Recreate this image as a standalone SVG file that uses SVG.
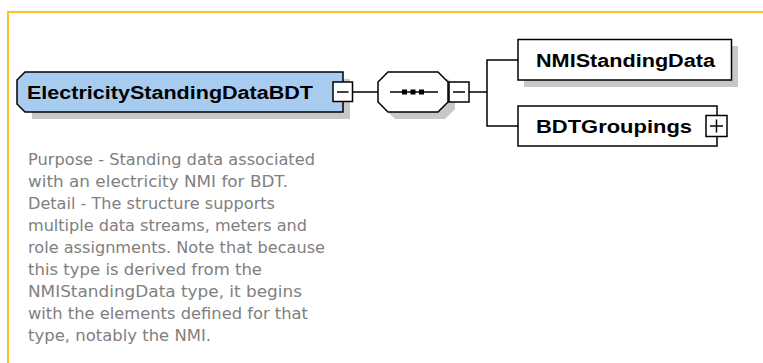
<svg xmlns="http://www.w3.org/2000/svg" width="763" height="363" viewBox="0 0 763 363">
<style>
.ln{stroke:#000;stroke-width:1.5;fill:none}
.box{fill:#fff;stroke:#000;stroke-width:1.5}
.shadow{fill:#c8c8c8}
.lbl{font-family:"Liberation Sans",Arial,sans-serif;font-weight:bold;font-size:18px;fill:#000}
.desc{font-family:"DejaVu Sans","Liberation Sans",sans-serif;font-size:15px;fill:#808080}
</style>
<rect x="0" y="0" width="763" height="363" fill="#fff"/>
<path d="M8 363 V12 H763" fill="none" stroke="#FFC020" stroke-width="2"/>
<g id="connectors">
<line class="ln" x1="353" y1="92" x2="378" y2="92"/>
<line class="ln" x1="469" y1="92" x2="487" y2="92"/>
<path class="ln" d="M518 60 H487 V126 H518"/>
</g>
<g id="ElectricityStandingDataBDT">
<path class="shadow" d="M32 79 H350 V119 H32 Z"/>
<path d="M25 72 H343 V112 H25 L17 104 V80 Z" fill="#A8CCF0" stroke="#000" stroke-width="1.5"/>
<text class="lbl" x="27" y="98.5" textLength="286" lengthAdjust="spacingAndGlyphs">ElectricityStandingDataBDT</text>
<rect class="box" x="333" y="82" width="19.5" height="19.5"/>
<line class="ln" x1="337" y1="92" x2="348.5" y2="92"/>
<text class="desc" x="28" y="165" textLength="287" lengthAdjust="spacingAndGlyphs">Purpose - Standing data associated</text>
<text class="desc" x="28" y="187" textLength="260" lengthAdjust="spacingAndGlyphs">with an electricity NMI for BDT.</text>
<text class="desc" x="28" y="209" textLength="247" lengthAdjust="spacingAndGlyphs">Detail - The structure supports</text>
<text class="desc" x="28" y="231" textLength="279" lengthAdjust="spacingAndGlyphs">multiple data streams, meters and</text>
<text class="desc" x="28" y="253" textLength="297" lengthAdjust="spacingAndGlyphs">role assignments. Note that because</text>
<text class="desc" x="28" y="275" textLength="234" lengthAdjust="spacingAndGlyphs">this type is derived from the</text>
<text class="desc" x="28" y="297" textLength="274" lengthAdjust="spacingAndGlyphs">NMIStandingData type, it begins</text>
<text class="desc" x="28" y="319" textLength="280" lengthAdjust="spacingAndGlyphs">with the elements defined for that</text>
<text class="desc" x="28" y="341" textLength="183" lengthAdjust="spacingAndGlyphs">type, notably the NMI.</text>
</g>
<g id="sequence">
<path class="shadow" d="M395 79 H448 L455 86 V109 L445 119 H395 L385 109 V89 Z"/>
<path d="M388 72 H438 L448 82 V102 L438 112 H388 L378 102 V82 Z" fill="#fff" stroke="#000" stroke-width="1.5"/>
<line class="ln" x1="390" y1="92" x2="438" y2="92"/>
<rect x="402" y="89.5" width="5" height="5" fill="#000"/>
<rect x="410.5" y="89.5" width="5" height="5" fill="#000"/>
<rect x="419" y="89.5" width="5" height="5" fill="#000"/>
<rect class="box" x="449" y="82" width="20" height="20"/>
<line class="ln" x1="453" y1="92" x2="465" y2="92"/>
</g>
<g id="NMIStandingData">
<rect class="shadow" x="524" y="46" width="214" height="41"/>
<rect class="box" x="518" y="39.5" width="213.5" height="40.5"/>
<text class="lbl" x="536" y="66.5" textLength="179" lengthAdjust="spacingAndGlyphs">NMIStandingData</text>
</g>
<g id="BDTGroupings">
<rect class="box" x="518" y="106" width="199" height="40"/>
<text class="lbl" x="536" y="132.5" textLength="156" lengthAdjust="spacingAndGlyphs">BDTGroupings</text>
<rect class="box" x="706" y="115.5" width="21" height="21"/>
<line class="ln" x1="710" y1="126" x2="723" y2="126"/>
<line class="ln" x1="716.5" y1="119.5" x2="716.5" y2="132.5"/>
</g>
</svg>
